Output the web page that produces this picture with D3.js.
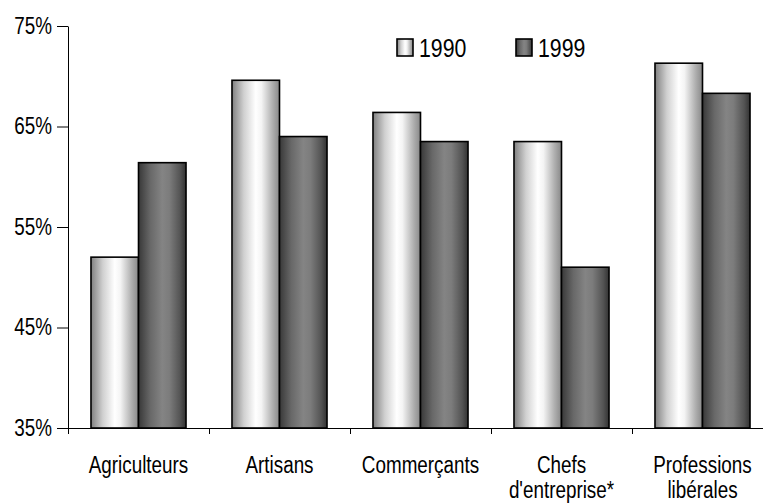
<!DOCTYPE html>
<html>
<head>
<meta charset="utf-8">
<script src="https://cdn.jsdelivr.net/npm/d3@7"></script>
<style>
  html, body { margin: 0; padding: 0; background: #fff; }
  svg { display: block; }
  text { font-family: "Liberation Sans", Arial, sans-serif; fill: #000; }
</style>
</head>
<body>
<svg id="chart" width="763" height="504"></svg>
<script>
// Share (%) per socio-professional category, 1990 vs 1999
const categories = [["Agriculteurs"], ["Artisans"], ["Commerçants"], ["Chefs", "d'entreprise*"], ["Professions", "libérales"]];
const years = ["1990", "1999"];
const values1990 = [52.0, 69.6, 66.4, 63.5, 71.3];
const values1999 = [61.4, 64.0, 63.5, 51.0, 68.3];
const yTicks = [35, 45, 55, 65, 75];

// Narrow typeface emulated by squeezing glyphs horizontally
const NARROW = 0.82;

const svg = d3.select("#chart");
const margin = { left: 68, top: 26, bottom: 428 };
const step = 141;
const plotRight = margin.left + step * categories.length;

const x = d3.scaleBand()
  .domain(d3.range(categories.length))
  .range([margin.left, plotRight])
  .padding(0);

const groupWidth = x.bandwidth() * 0.674;
const xInner = d3.scaleBand()
  .domain(years)
  .range([0, groupWidth])
  .padding(0);

const y = d3.scaleLinear().domain([35, 75]).range([margin.bottom, margin.top]);

// Horizontal gradients giving each bar a cylindrical shading
const defs = svg.append("defs");
function cylinder(id, stops) {
  const g = defs.append("linearGradient").attr("id", id)
    .attr("x1", "0%").attr("x2", "100%").attr("y1", "0%").attr("y2", "0%");
  stops.forEach(([o, c]) => g.append("stop").attr("offset", o).attr("stop-color", c));
}
cylinder("g1990", [["0%", "#808080"], ["25%", "#d0d0d0"], ["50%", "#ffffff"], ["62%", "#f4f4f4"], ["85%", "#b0b0b0"], ["100%", "#888888"]]);
cylinder("g1999", [["0%", "#383838"], ["25%", "#686868"], ["50%", "#848484"], ["65%", "#7c7c7c"], ["88%", "#535353"], ["100%", "#323232"]]);

const series = [
  { year: "1990", values: values1990, fill: "url(#g1990)" },
  { year: "1999", values: values1999, fill: "url(#g1999)" }
];

// Bars
const groups = svg.append("g").selectAll("g")
  .data(categories.map((c, i) => i))
  .join("g")
  .attr("transform", i => `translate(${x(i) + (x.bandwidth() - groupWidth) / 2},0)`);

groups.selectAll("rect")
  .data(i => series.map(s => ({ year: s.year, v: s.values[i], fill: s.fill })))
  .join("rect")
  .attr("x", d => xInner(d.year))
  .attr("y", d => y(d.v))
  .attr("width", xInner.bandwidth())
  .attr("height", d => y(35) - y(d.v))
  .attr("fill", d => d.fill)
  .attr("stroke", "#000")
  .attr("stroke-width", 1.6);

// Y axis
const yAxis = svg.append("g")
  .attr("transform", `translate(${margin.left},0)`)
  .call(d3.axisLeft(y).tickValues(yTicks).tickFormat(d => d + "%").tickSize(11).tickSizeOuter(0).tickPadding(5));
yAxis.selectAll("line, path").attr("stroke", "#000");
yAxis.selectAll("text")
  .style("font-size", "23px")
  .attr("x", -16 / NARROW)
  .attr("transform", `scale(${NARROW},1)`);

// X axis: baseline with boundary ticks between categories
const boundaries = d3.range(categories.length + 1).map(i => margin.left + i * x.step());
const xAxis = svg.append("g")
  .attr("transform", `translate(0,${margin.bottom})`)
  .call(d3.axisBottom(d3.scaleLinear().domain([margin.left, plotRight]).range([margin.left, plotRight]))
    .tickValues(boundaries).tickSize(6).tickSizeOuter(0).tickFormat(""));
xAxis.selectAll("line, path").attr("stroke", "#000");

// Category labels (multi-line)
svg.append("g").selectAll("text")
  .data(categories)
  .join("text")
  .attr("text-anchor", "middle")
  .style("font-size", "23px")
  .attr("transform", (d, i) => `translate(${x(i) + x.bandwidth() / 2},473) scale(${NARROW},1)`)
  .each(function (lines) {
    d3.select(this).selectAll("tspan")
      .data(lines)
      .join("tspan")
      .attr("x", 0)
      .attr("y", (l, k) => k * 25)
      .text(l => l);
  });

// Legend
const legendItems = [
  { label: "1990", fill: "url(#g1990)", x: 397 },
  { label: "1999", fill: "url(#g1999)", x: 516 }
];
const legend = svg.append("g").selectAll("g")
  .data(legendItems)
  .join("g")
  .attr("transform", d => `translate(${d.x},39)`);
legend.append("rect")
  .attr("width", 16).attr("height", 17)
  .attr("fill", d => d.fill)
  .attr("stroke", "#000").attr("stroke-width", 1.6);
legend.append("text")
  .attr("transform", `translate(22,17.5) scale(${NARROW},1)`)
  .style("font-size", "26px")
  .text(d => d.label);
</script>
</body>
</html>
